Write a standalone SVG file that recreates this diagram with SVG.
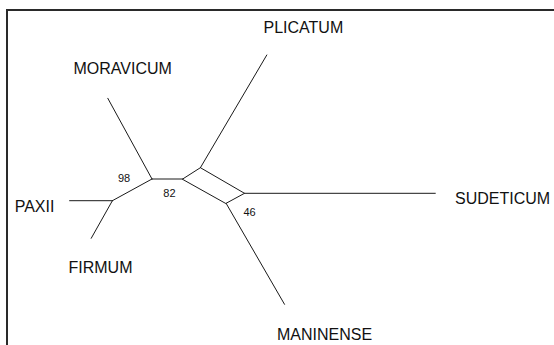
<svg xmlns="http://www.w3.org/2000/svg" width="554" height="345" viewBox="0 0 554 345">
  <style>
    .frame { fill: none; stroke: #2a2a2a; stroke-width: 2; }
    .edge { fill: none; stroke: #1a1a1a; stroke-width: 1; stroke-linecap: round; stroke-linejoin: round; }
    .taxon { font-family: "Liberation Sans", Arial, sans-serif; font-size: 16px; fill: #111; }
    .support { font-family: "Liberation Sans", Arial, sans-serif; font-size: 11px; fill: #111; }
  </style>
  <rect width="554" height="345" fill="#ffffff"/>
  <!-- frame: only top and left edges fall inside the canvas -->
  <path class="frame" d="M7,346 V10 H556"/>

  <!-- network edges -->
  <g id="connectors">
    <line class="edge" x1="69.6" y1="200.7" x2="112.4" y2="200.7"/>
    <line class="edge" x1="112.4" y1="200.7" x2="91.2" y2="238.3"/>
    <line class="edge" x1="112.4" y1="200.7" x2="152" y2="179"/>
    <line class="edge" x1="152" y1="179" x2="107.8" y2="98.3"/>
    <line class="edge" x1="152" y1="179" x2="182.7" y2="179"/>
    <polygon class="edge" points="182.7,179 200.4,167.7 244.5,193.3 226.1,203.3"/>
    <line class="edge" x1="200.4" y1="167.7" x2="266.8" y2="55"/>
    <line class="edge" x1="244.5" y1="193.3" x2="435.3" y2="193.3"/>
    <line class="edge" x1="226.1" y1="203.3" x2="284.5" y2="304.3"/>
  </g>

  <!-- support values -->
  <g id="support-98"><text class="support" x="118" y="182.3">98</text></g>
  <g id="support-82"><text class="support" x="163.3" y="197">82</text></g>
  <g id="support-46"><text class="support" x="243.5" y="215.5">46</text></g>

  <!-- taxa -->
  <g id="plicatum"><text class="taxon" x="263.5" y="32.5">PLICATUM</text></g>
  <g id="moravicum"><text class="taxon" x="73.5" y="74">MORAVICUM</text></g>
  <g id="paxii"><text class="taxon" x="14.7" y="211.7">PAXII</text></g>
  <g id="firmum"><text class="taxon" x="68.5" y="273.3">FIRMUM</text></g>
  <g id="sudeticum"><text class="taxon" x="455" y="204.3">SUDETICUM</text></g>
  <g id="maninense"><text class="taxon" x="277" y="340">MANINENSE</text></g>
</svg>
